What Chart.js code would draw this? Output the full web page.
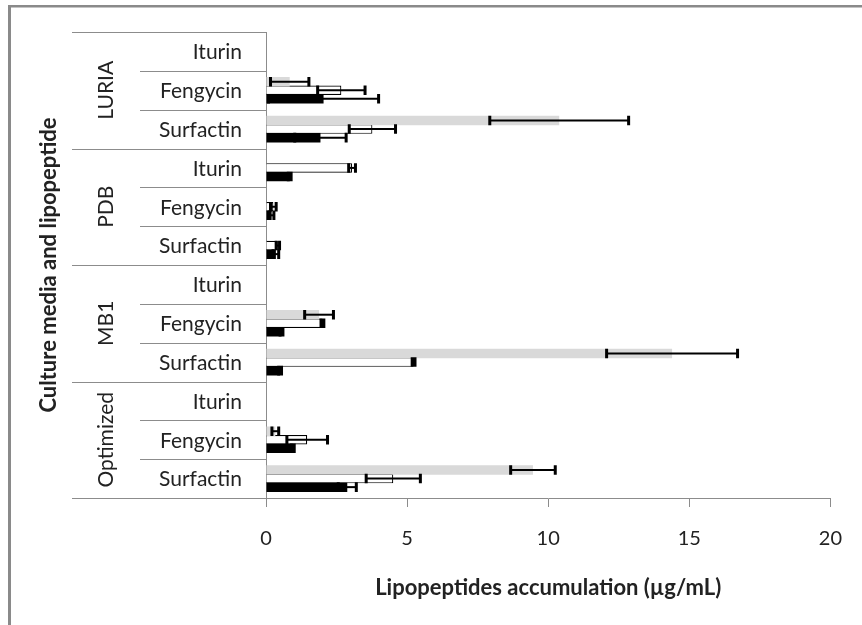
<!DOCTYPE html>
<html>
<head>
<meta charset="utf-8">
<script src="https://cdn.jsdelivr.net/npm/chart.js@4.4.0/dist/chart.umd.min.js"></script>
<style>
  html, body { margin: 0; padding: 0; background: #fff; }
</style>
</head>
<body>
<canvas id="chart" width="862" height="625"></canvas>
<script>
// Lipopeptide yields per culture medium, three series per row (top to bottom: grey, white, black)
const media = ['LURIA', 'PDB', 'MB1', 'Optimized'];
const lipopeptides = ['Iturin', 'Fengycin', 'Surfactin'];
const rowLabels = media.flatMap(() => lipopeptides);

const series1Values = [0, 0.84, 10.39, 0, 0, 0, 0, 1.88, 14.39, 0, 0.33, 9.46];
const series1Errors = [0, 0.68, 2.46, 0, 0, 0, 0, 0.51, 2.32, 0, 0.12, 0.79];
const series2Values = [0, 2.67, 3.77, 3.05, 0.26, 0.42, 0, 2.0, 5.23, 0, 1.46, 4.51];
const series2Errors = [0, 0.84, 0.82, 0.12, 0.1, 0.06, 0, 0.05, 0.05, 0, 0.72, 0.96];
const series3Values = [0, 2.04, 1.93, 0.84, 0.2, 0.35, 0, 0.55, 0.5, 0, 0.95, 2.88];
const series3Errors = [0, 1.95, 0.91, 0.05, 0.08, 0.1, 0, 0.05, 0.05, 0, 0.05, 0.32];

const xTicks = [0, 5, 10, 15, 20];

const FONT = 'Lato';
const LINE_GREY = '#8c8c8c';
const TEXT = '#222';

// outer frame (only left/top edges are in view) + two-level row labels
const rowLabelPlugin = {
    id: 'rowLabels',
    beforeDraw(chart) {
        const ctx = chart.ctx;
        ctx.save();
        ctx.fillStyle = '#fff';
        ctx.fillRect(0, 0, chart.width, chart.height);
        ctx.fillStyle = '#8a8a8a';
        ctx.fillRect(8, 5, 3, chart.height - 5);
        ctx.fillRect(8, 5, chart.width - 8, 2.5);
        ctx.restore();
    },
    afterDraw(chart) {
        const { ctx, chartArea, scales: { y } } = chart;
        const n = rowLabels.length;
        const per = lipopeptides.length;

        // row boundaries
        const edges = [];
        for (let i = 0; i <= n; i++) {
            if (i === 0) edges.push(chartArea.top);
            else if (i === n) edges.push(chartArea.bottom);
            else edges.push((y.getPixelForValue(i - 1) + y.getPixelForValue(i)) / 2);
        }

        ctx.save();
        ctx.strokeStyle = LINE_GREY;
        ctx.lineWidth = 1;
        edges.forEach((yy, i) => {
            const startX = i % per === 0 ? 72 : 140;
            const py = Math.round(yy) + 0.5;
            ctx.beginPath();
            ctx.moveTo(startX, py);
            ctx.lineTo(chartArea.left, py);
            ctx.stroke();
        });

        // inner labels
        ctx.fillStyle = TEXT;
        ctx.font = '21px ' + FONT;
        ctx.textAlign = 'right';
        ctx.textBaseline = 'middle';
        rowLabels.forEach((lbl, i) => {
            ctx.fillText(lbl, 242, y.getPixelForValue(i) + 1);
        });

        // rotated medium labels
        media.forEach((m, g) => {
            const mid = (edges[g * per] + edges[(g + 1) * per]) / 2;
            ctx.save();
            ctx.translate(106, mid);
            ctx.rotate(-Math.PI / 2);
            ctx.textAlign = 'center';
            ctx.fillText(m, 0, 0);
            ctx.restore();
        });
        ctx.restore();
    }
};

// symmetric error bars drawn from the same x scale as the bars
const errorBarPlugin = {
    id: 'errorBars',
    afterDatasetsDraw(chart) {
        const { ctx, scales: { x } } = chart;
        ctx.save();
        ctx.strokeStyle = '#000';
        chart.data.datasets.forEach((ds, di) => {
            const meta = chart.getDatasetMeta(di);
            ds.data.forEach((v, i) => {
                const err = ds.errors[i];
                if (!err) return;
                const bar = meta.data[i];
                const lo = x.getPixelForValue(v - err);
                const hi = x.getPixelForValue(v + err);
                const half = bar.height / 2;
                ctx.lineWidth = 2;
                ctx.beginPath();
                ctx.moveTo(lo, bar.y);
                ctx.lineTo(hi, bar.y);
                ctx.stroke();
                ctx.lineWidth = 3;
                ctx.beginPath();
                ctx.moveTo(lo, bar.y - half);
                ctx.lineTo(lo, bar.y + half);
                ctx.moveTo(hi, bar.y - half);
                ctx.lineTo(hi, bar.y + half);
                ctx.stroke();
            });
        });
        ctx.restore();
    }
};

const barCommon = { barPercentage: 1.12, categoryPercentage: 0.66, borderSkipped: 'start' };

new Chart(document.getElementById('chart'), {
    type: 'bar',
    data: {
        labels: rowLabels,
        datasets: [
            { ...barCommon, data: series1Values, errors: series1Errors, backgroundColor: '#d9d9d9', borderWidth: 0 },
            { ...barCommon, data: series2Values, errors: series2Errors, backgroundColor: '#ffffff', borderColor: '#000', borderWidth: 1.2 },
            { ...barCommon, data: series3Values, errors: series3Errors, backgroundColor: '#000000', borderWidth: 0 }
        ]
    },
    options: {
        indexAxis: 'y',
        responsive: false,
        animation: false,
        layout: { padding: { top: 32, right: 26, left: 0, bottom: 0 } },
        plugins: {
            legend: { display: false },
            tooltip: { enabled: false }
        },
        scales: {
            x: {
                type: 'linear',
                min: xTicks[0],
                max: xTicks[xTicks.length - 1],
                afterBuildTicks: scale => { scale.ticks = xTicks.map(v => ({ value: v })); },
                afterFit: scale => { scale.height = 127; },
                grid: { drawOnChartArea: false, color: LINE_GREY, tickLength: 9 },
                border: { color: LINE_GREY, width: 1 },
                ticks: { color: TEXT, padding: 20, font: { family: FONT, size: 20 } },
                title: {
                    display: true,
                    text: 'Lipopeptides accumulation (µg/mL)',
                    color: TEXT,
                    font: { family: FONT, size: 22, weight: 'bold' },
                    padding: { top: 0, bottom: 24 }
                }
            },
            y: {
                type: 'category',
                afterFit: scale => { scale.width = 266; },
                grid: { display: false },
                border: { color: LINE_GREY, width: 1 },
                ticks: { display: false },
                title: {
                    display: true,
                    text: 'Culture media and lipopeptide',
                    color: TEXT,
                    font: { family: FONT, size: 22, weight: 'bold' },
                    padding: { top: 36, bottom: 0 }
                }
            }
        }
    },
    plugins: [rowLabelPlugin, errorBarPlugin]
});
</script>
</body>
</html>
